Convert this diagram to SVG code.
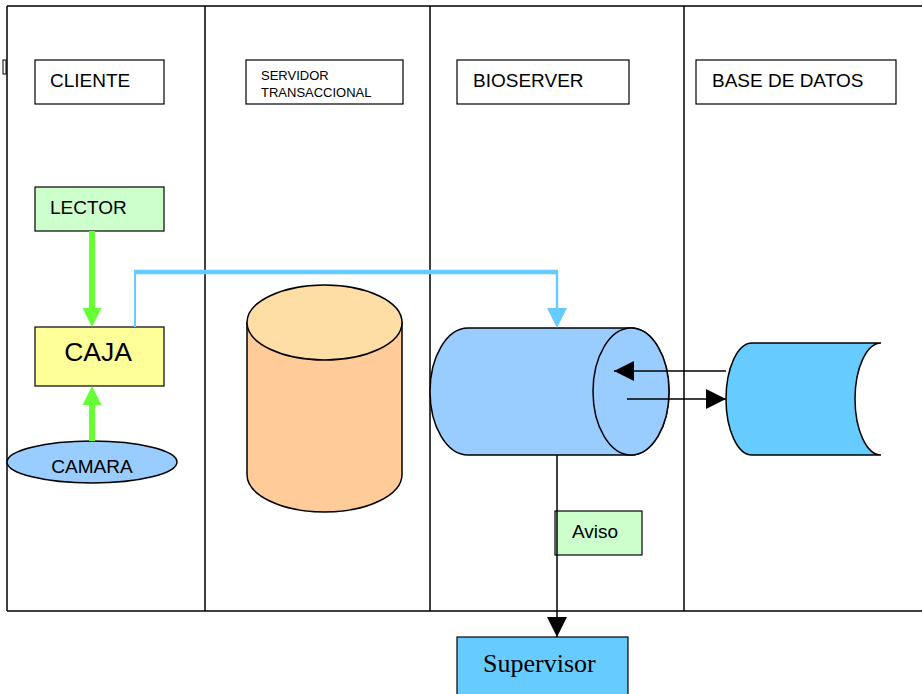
<svg xmlns="http://www.w3.org/2000/svg" width="922" height="694" viewBox="0 0 922 694">
<defs>
<style>
.frame{stroke:#000;stroke-width:1.5;fill:none}
.box{stroke:#000;stroke-width:1.2}
.t{font-family:"Liberation Sans",Arial,sans-serif;fill:#000}
.shape{stroke:#000;stroke-width:1.5}
</style>
<marker id="ah" markerWidth="20" markerHeight="20" viewBox="0 0 20 20" refX="20" refY="10" orient="auto" markerUnits="userSpaceOnUse">
<path d="M0,0 L20,10 L0,20 Z" fill="#000"/>
</marker>
</defs>
<rect width="922" height="694" fill="#fff"/>
<g id="frame">
<path class="frame" d="M7,6 H922 M7,611 H922 M7,6 V611 M205,6 V611 M430,6 V611 M684,6 V611"/>
<rect x="3" y="60" width="3" height="14" fill="none" stroke="#000" stroke-width="1"/>
</g>
<g id="hdr-cliente"><rect class="box" x="35" y="60" width="129" height="44" fill="#fff"/><text class="t" x="50" y="87" font-size="19">CLIENTE</text></g>
<g id="hdr-servidor"><rect class="box" x="246" y="60" width="157" height="44" fill="#fff"/><text class="t" x="261" y="80" font-size="13">SERVIDOR</text><text class="t" x="261" y="97" font-size="13">TRANSACCIONAL</text></g>
<g id="hdr-bioserver"><rect class="box" x="457" y="60" width="172" height="44" fill="#fff"/><text class="t" x="473" y="87" font-size="19">BIOSERVER</text></g>
<g id="hdr-bd"><rect class="box" x="696" y="60" width="200" height="44" fill="#fff"/><text class="t" x="712" y="87" font-size="19">BASE DE DATOS</text></g>
<g id="lector"><rect class="box" x="35" y="187" width="129" height="44" fill="#CCFFCC"/><text class="t" x="50" y="214" font-size="19">LECTOR</text></g>
<g id="caja"><rect class="box" x="35" y="327" width="129" height="59" fill="#FFFF99"/><text class="t" x="98" y="361" font-size="26.5" text-anchor="middle">CAJA</text></g>
<g id="camara"><ellipse class="shape" cx="92" cy="462" rx="85" ry="21" fill="#99CCFF"/><text class="t" x="92" y="473" font-size="19" text-anchor="middle">CAMARA</text></g>
<g id="servidor-cyl">
<path class="shape" d="M247,322.5 V474.5 A77.5,37.5 0 0 0 402,474.5 V322.5 Z" fill="#FFCC99"/>
<ellipse class="shape" cx="324.5" cy="322.5" rx="77.5" ry="37.5" fill="#FFDEA6"/>
</g>
<g id="bioserver-cyl">
<path class="shape" d="M468,328 H631 A38,63.5 0 0 1 631,455 H468 A38,63.5 0 0 1 468,328 Z" fill="#99CCFF"/>
<ellipse class="shape" cx="631" cy="391.5" rx="38" ry="63.5" fill="#99CCFF"/>
</g>
<g id="bd-store">
<path class="shape" d="M881,343 H752 A26,56 0 0 0 752,455 H881 A26,56 0 0 1 881,343 Z" fill="#66CCFF"/>
</g>
<g id="aviso"><rect class="box" x="555" y="511" width="87" height="44" fill="#CCFFCC"/><text class="t" x="572" y="538" font-size="19">Aviso</text></g>
<g id="supervisor"><rect class="box" x="457" y="637" width="171" height="62" fill="#66CCFF"/><text x="483" y="672" font-size="26" font-family="'Liberation Serif','Times New Roman',serif" fill="#000">Supervisor</text></g>
<g id="connectors">
<line x1="92" y1="231" x2="92" y2="310" stroke="#66FF33" stroke-width="6"/>
<path d="M82.5,308 L101.5,308 L92,327 Z" fill="#66FF33"/>
<line x1="92" y1="441" x2="92" y2="403" stroke="#66FF33" stroke-width="6"/>
<path d="M82.5,405 L101.5,405 L92,386 Z" fill="#66FF33"/>
<line x1="135" y1="327" x2="135" y2="272" stroke="#66CCFF" stroke-width="2"/>
<line x1="134" y1="272" x2="558" y2="272" stroke="#66CCFF" stroke-width="4.5"/>
<line x1="557" y1="272" x2="557" y2="310" stroke="#66CCFF" stroke-width="2.5"/>
<path d="M547,308 L567,308 L557,328 Z" fill="#66CCFF"/>
<line x1="726" y1="371" x2="614" y2="371" stroke="#000" stroke-width="1.5" marker-end="url(#ah)"/>
<line x1="627" y1="399" x2="726" y2="399" stroke="#000" stroke-width="1.5" marker-end="url(#ah)"/>
<line x1="557" y1="455" x2="557" y2="637" stroke="#000" stroke-width="1.5" marker-end="url(#ah)"/>
</g>
</svg>
